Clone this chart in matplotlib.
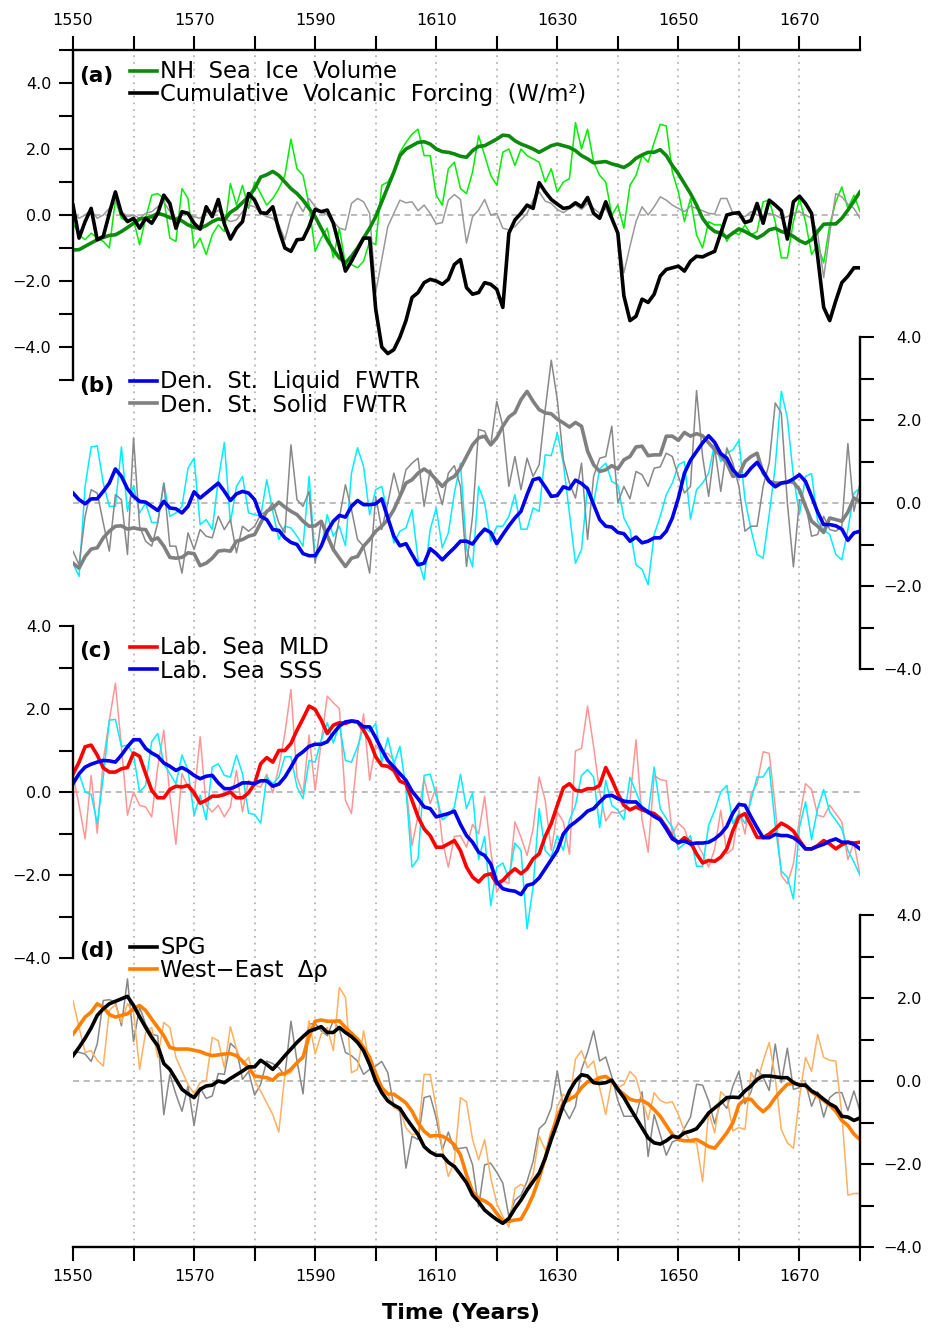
import numpy as np
import matplotlib
matplotlib.use("Agg")
import matplotlib.pyplot as plt
from matplotlib.lines import Line2D
from matplotlib.ticker import MultipleLocator, FixedLocator

W, H = 934, 1328
years = np.arange(1550, 1681)

# (a) NH sea ice volume (raw + smoothed), volcanic forcing
a_ice_raw = [-0.25, -0.6, -0.75, -0.55, -0.7, -0.8, -1.0, 0.45, -0.1, -0.2,
             -0.15, -0.9, -0.1, 0.6, 0.65, 0.5, -0.7, -0.8, 0.8, 0.5,
             -1.0, -0.7, -1.2, -0.6, -0.3, -0.5, 0.95, 0.3, 0.9, 0.2,
             1.0, 0.65, 0.3, 0.5, 0.8, 1.2, 2.3, 1.4, 1.2, 0.3,
             -1.1, -0.7, -0.4, -1.3, -0.4, -1.5, -1.5, -1.6, -1.4, -0.8,
             -0.9, 0.9, 1.0, 1.3, 1.9, 2.2, 2.45, 2.6, 1.8, 1.8,
             0.6, 0.3, 1.4, 1.6, 0.8, 0.65, 1.3, 2.4, 1.8, 1.2,
             0.9, 1.9, 2.0, 1.5, 2.0, 1.8, 1.7, 1.6, 1.0, 1.4,
             0.7, 1.0, 1.1, 2.8, 2.0, 2.6, 1.6, 1.2, 1.0, 0.0,
             0.3, -0.4, 0.9, 1.2, 1.8, 1.6, 2.2, 2.75, 2.7, 1.3,
             0.7, -0.2, 0.5, -0.6, -1.0, -0.2, -0.3, -0.3, -0.8, -0.5,
             -0.6, -0.3, -0.6, -0.5, 0.4, 0.45, -0.2, -1.3, -1.3, -0.2,
             0.5, -0.2, -1.2, -0.9, -1.45, -0.3, 0.4, 0.85, 0.2, 0.6, 0.1]
a_ice = [-1.06, -1.05, -0.95, -0.85, -0.75, -0.68, -0.62, -0.6, -0.5, -0.38,
         -0.25, -0.12, -0.1, -0.05, 0.05, 0.0, -0.08, -0.12, -0.18, -0.3,
         -0.38, -0.4, -0.32, -0.2, -0.12, -0.15, 0.08, 0.2, 0.38, 0.55,
         0.8, 1.15, 1.22, 1.32, 1.2, 1.0, 0.8, 0.65, 0.45, 0.2,
         -0.05, -0.4, -0.75, -1.05, -1.3, -1.45, -1.25, -1.0, -0.7, -0.4,
         -0.05, 0.4, 0.85, 1.3, 1.8, 2.0, 2.1, 2.2, 2.22, 2.15,
         2.0, 1.92, 1.9, 1.85, 1.78, 1.75, 1.95, 2.08, 2.1, 2.2,
         2.3, 2.42, 2.4, 2.25, 2.15, 2.08, 2.0, 1.9, 2.0, 2.1,
         2.15, 2.1, 2.05, 1.95, 1.8, 1.7, 1.58, 1.6, 1.62, 1.55,
         1.5, 1.44, 1.55, 1.72, 1.82, 1.9, 1.9, 1.98, 1.8, 1.5,
         1.25, 0.95, 0.65, 0.3, -0.1, -0.35, -0.5, -0.55, -0.68, -0.55,
         -0.42, -0.5, -0.6, -0.7, -0.6, -0.45, -0.4, -0.5, -0.55, -0.65,
         -0.78, -0.86, -0.75, -0.5, -0.28, -0.27, -0.27, -0.1, 0.15, 0.42, 0.7]
a_volc_raw = [0.1, -0.1, 0.0, 0.15, -0.1, 0.0, 0.2, 0.4, 0.1, -0.05,
              0.0, -0.1, 0.05, 0.1, 0.25, 0.4, 0.1, -0.1, 0.05, 0.0,
              -0.05, -0.1, 0.1, 0.0, 0.15, -0.1, -0.2, -0.15, 0.1, 0.3,
              0.25, 0.05, -0.05, -0.1, -0.3, -0.75, -0.05, 0.4, 0.1, 0.5,
              0.25, 0.1, 0.0, -0.2, -0.4, -0.45, 0.35, 0.5, 0.4, 0.05,
              -2.35, -1.35, -0.35, 0.05, 0.45, 0.37, 0.4, 0.13, 0.3, 0.05,
              -0.27, -0.23, 0.45, 0.62, 0.47, -0.85, -0.05, 0.15, 0.47, 0.0,
              0.05, -0.4, -0.45, -0.35, -0.15, 0.05, 0.45, 0.7, 0.42, 0.35,
              0.17, 0.07, 0.2, 0.3, 0.17, 0.35, 0.2, 0.05, 0.2, -0.15,
              -0.55, -1.75, -0.95, -0.2, 0.25, 0.0, 0.25, 0.55, 0.45, 0.3,
              0.2, 0.1, 0.27, 0.2, 0.13, 0.05, 0.03, 0.5, 0.5, 0.05,
              0.0, -0.05, 0.1, 0.0, -0.05, 0.05, 0.0, -0.1, -0.05, 0.05,
              0.1, 0.0, -0.1, -0.55, -1.9, -0.55, 0.65, 0.55, 0.33, 0.2, -0.1]
a_volc = [0.3, -0.7, -0.2, 0.2, -0.75, -0.65, 0.05, 0.7, 0.05, -0.2,
          -0.1, -0.4, -0.1, -0.25, 0.05, 0.6, 0.35, -0.4, 0.1, 0.05,
          -0.25, -0.43, 0.25, -0.05, 0.47, -0.27, -0.73, -0.4, -0.2, 0.65,
          0.45, 0.07, 0.05, 0.25, -0.45, -1.0, -1.1, -0.75, -0.73, -0.35,
          0.17, 0.1, 0.15, -0.25, -0.95, -1.7, -1.4, -1.05, -0.7, -0.7,
          -2.85, -4.0, -4.2, -4.08, -3.7, -3.2, -2.5, -2.35, -2.05, -1.95,
          -2.0, -2.1, -1.95, -1.5, -1.35, -2.2, -2.4, -2.35, -2.05, -2.1,
          -2.25, -2.8, -0.55, -0.15, 0.05, 0.3, 0.2, 0.98, 0.7, 0.47,
          0.33, 0.2, 0.23, 0.37, 0.25, 0.53, 0.05, -0.1, 0.4, -0.1,
          -0.55, -2.45, -3.2, -3.07, -2.55, -2.65, -2.4, -1.85, -1.65, -1.6,
          -1.55, -1.7, -1.4, -1.25, -1.27, -1.18, -1.1, -0.55, 0.0, 0.05,
          0.07, -0.23, -0.17, 0.35, -0.25, 0.45, 0.3, 0.13, -0.73, 0.4,
          0.57, 0.35, 0.05, -1.25, -2.8, -3.2, -2.6, -2.05, -1.85, -1.6, -1.6]

# (b) Denmark Strait liquid / solid freshwater transport
b_liq_raw = [-1.45, -1.77, 0.4, 1.35, 1.38, 0.48, -0.08, -0.08, 1.35, -0.2,
             0.42, -0.24, 0.0, -0.47, -0.47, 0.48, -0.32, -0.24, -0.08, 0.84,
             1.08, -0.52, -0.4, -0.64, 0.56, 1.46, -0.48, 0.4, 0.64, -0.24,
             -0.28, -0.32, 0.56, -0.2, -0.88, -0.56, -0.6, -0.8, -1.04, 0.64,
             -1.37, -1.08, -0.28, -0.8, -0.56, -1.03, 0.72, 1.33, 0.88, -0.28,
             0.32, 0.4, -0.28, -0.96, -0.68, -0.6, -0.16, -1.37, -1.85, -0.64,
             -0.12, -1.08, -0.72, 0.24, 0.96, -1.1, -1.54, 0.4, 0.0, -0.92,
             -0.56, -0.56, -0.32, 0.2, -0.63, -0.63, -0.12, -0.2, 1.16, 1.14,
             1.69, 0.96, -0.24, -1.45, -1.12, 0.4, 0.0, 0.82, 0.96, 0.52,
             0.44, -0.36, -0.64, -1.49, -1.6, -1.97, -0.76, -0.32, 0.2, 0.48,
             0.92, 1.0, -0.39, 0.32, 0.48, 0.72, 1.45, 1.0, 1.2, 1.28,
             1.51, 0.08, -0.64, -1.24, -1.33, -0.28, 0.88, 2.69, 2.05, 0.64,
             -0.28, 0.64, 0.71, -0.44, -0.64, -0.76, -1.24, -1.37, -0.64, 0.24, 0.36]
b_liq = [0.24, 0.08, -0.02, 0.1, 0.1, 0.28, 0.48, 0.82, 0.64, 0.34,
         0.16, 0.04, 0.02, -0.08, -0.18, 0.04, -0.12, -0.14, -0.24, -0.08,
         0.27, 0.12, 0.24, 0.36, 0.48, 0.28, 0.06, 0.22, 0.28, 0.24,
         0.08, -0.32, -0.4, -0.64, -0.66, -0.84, -0.95, -1.0, -1.22, -1.27,
         -1.27, -1.04, -0.68, -0.44, -0.3, -0.34, -0.08, 0.06, -0.04, -0.04,
         -0.02, 0.1, -0.36, -0.8, -1.03, -0.98, -1.24, -1.49, -1.45, -1.1,
         -1.22, -1.37, -1.22, -1.08, -0.92, -0.92, -0.99, -0.79, -0.63, -0.71,
         -0.98, -0.76, -0.55, -0.36, -0.2, 0.2, 0.56, 0.6, 0.39, 0.16,
         0.18, 0.39, 0.34, 0.55, 0.47, 0.34, -0.04, -0.4, -0.56, -0.58,
         -0.71, -0.74, -0.92, -0.82, -0.96, -0.92, -0.84, -0.84, -0.68, -0.36,
         0.12, 0.72, 1.03, 1.24, 1.45, 1.62, 1.46, 1.19, 1.08, 0.8,
         0.64, 0.66, 0.84, 0.98, 0.76, 0.52, 0.39, 0.48, 0.5, 0.58,
         0.68, 0.52, 0.16, -0.22, -0.52, -0.52, -0.55, -0.63, -0.9, -0.72, -0.68]
b_sol_raw = [-1.16, -1.49, -0.32, 0.32, 0.24, -0.48, -1.16, 0.2, 0.08, -1.24,
             1.57, -0.56, -0.92, -1.04, -0.48, 0.48, -1.04, -1.04, -1.69, -0.72,
             -1.12, -0.64, -0.8, -0.84, -0.32, -0.64, -0.4, -1.2, -0.56, -0.68,
             -0.56, -0.28, -0.2, 0.0, -0.48, -0.72, 1.4, 0.08, -0.08, 0.28,
             -1.45, -0.44, -0.72, -1.16, -0.36, 0.44, -0.16, -0.88, -1.04, -1.69,
             0.16, -0.64, 0.0, 0.72, 0.16, 0.8, 0.96, 1.08, -0.08, 0.8,
             0.48, -0.04, 0.72, 0.9, 0.4, -1.53, -0.32, 1.77, 1.73, 1.4,
             2.45, 1.85, 0.4, 1.12, 0.32, 1.08, 0.64, 0.92, 2.25, 3.44,
             2.49, 1.04, 0.48, 0.12, 0.96, -0.88, 0.64, 1.08, 1.12, 1.85,
             0.0, 0.4, 0.1, 0.76, 0.68, 0.4, 0.84, 0.87, 1.2, 1.12,
             0.64, 0.24, 0.4, 2.71, 1.12, 0.16, 1.33, 0.28, 1.33, 0.96,
             0.4, -0.68, -0.56, -0.56, 0.4, 0.96, 2.41, 2.17, 0.0, -1.54,
             0.08, 0.0, -0.8, -0.76, -0.32, -0.64, -0.68, -0.56, 1.43, -0.2, 0.47]
b_sol = [-1.45, -1.57, -1.29, -1.11, -1.08, -0.84, -0.68, -0.56, -0.55, -0.63,
         -0.6, -0.63, -0.64, -0.9, -0.84, -1.04, -1.31, -1.33, -1.31, -1.2,
         -1.22, -1.51, -1.45, -1.33, -1.16, -1.14, -1.16, -0.92, -0.88, -0.8,
         -0.76, -0.48, -0.2, -0.12, 0.02, -0.1, -0.2, -0.28, -0.44, -0.56,
         -0.55, -0.44, -0.79, -1.12, -1.33, -1.53, -1.33, -1.29, -1.04, -0.88,
         -0.68, -0.56, -0.4, -0.16, 0.16, 0.48, 0.56, 0.72, 0.82, 0.72,
         0.56, 0.4, 0.56, 0.64, 0.84, 1.12, 1.4, 1.57, 1.61, 1.4,
         1.57, 1.85, 2.07, 2.18, 2.49, 2.69, 2.45, 2.25, 2.17, 2.15,
         2.02, 1.93, 1.83, 1.94, 1.85, 1.25, 0.92, 0.76, 0.8, 0.9,
         0.82, 1.04, 1.12, 1.35, 1.37, 1.14, 1.16, 1.16, 1.61, 1.61,
         1.51, 1.7, 1.61, 1.67, 1.62, 1.45, 1.29, 1.14, 0.96, 0.64,
         0.68, 1.0, 1.12, 1.2, 0.72, 0.52, 0.48, 0.48, 0.52, 0.5,
         0.32, -0.08, -0.44, -0.56, -0.71, -0.36, -0.4, -0.44, -0.22, 0.12, 0.04]

# (c) Labrador Sea mixed layer depth / sea surface salinity
c_mld_raw = [0.43, -0.32, -1.13, 0.4, -0.99, 0.76, 1.73, 2.62, 1.09, -0.56,
             0.0, -0.32, -0.36, -0.6, 0.6, 1.49, -0.08, -1.26, 0.44, 0.12,
             -0.12, 1.33, -0.32, -0.48, -0.32, -0.6, -0.36, 0.52, -0.48, 0.28,
             0.16, 0.12, 0.43, -0.02, 0.6, 1.41, 2.47, 0.36, -0.04, 1.37,
             0.04, 1.21, 2.31, 2.15, 2.01, -0.2, -0.52, 0.93, 1.88, 0.28,
             1.13, 0.94, 0.93, 0.76, 0.28, 0.2, -1.29, -0.56, 0.32, -0.28,
             0.12, -1.17, -1.81, -1.07, -1.05, -1.33, -0.78, -1.01, -0.1, -1.41,
             -2.41, -2.13, -2.21, -0.72, -1.09, -1.53, -0.89, 0.36, -0.2, -1.41,
             -0.48, -0.72, -1.5, 0.99, 1.05, 2.07, 1.09, 0.0, -0.7, -0.48,
             -0.51, -0.44, -0.2, 1.26, -0.67, -1.45, 0.4, 0.3, 0.27, -1.01,
             -0.75, -0.89, -1.31, -1.21, -1.49, -1.81, -1.37, -0.44, -1.49, -1.37,
             -0.44, -1.01, -0.04, 0.2, 0.97, 0.93, -0.36, -2.01, -2.21, -1.73,
             -0.64, 0.2, 0.06, -0.56, -0.6, -0.32, -0.52, -0.72, -1.63, -1.21, -2.01]
c_mld = [0.43, 0.72, 1.09, 1.13, 0.89, 0.58, 0.48, 0.48, 0.56, 0.59,
         0.94, 0.86, 0.44, 0.04, -0.14, -0.14, 0.06, 0.14, 0.12, 0.16,
         -0.02, -0.27, -0.2, -0.1, -0.1, -0.06, 0.0, -0.14, -0.14, -0.02,
         0.2, 0.68, 0.83, 0.72, 1.0, 1.0, 1.17, 1.49, 1.77, 2.07,
         1.99, 1.73, 1.41, 1.61, 1.67, 1.65, 1.71, 1.69, 1.49, 1.23,
         0.85, 0.64, 0.62, 0.52, 0.26, 0.2, -0.2, -0.6, -0.89, -1.05,
         -1.33, -1.33, -1.25, -1.17, -1.41, -1.81, -2.05, -2.17, -2.01, -1.97,
         -2.21, -2.13, -1.97, -1.85, -1.97, -1.85, -1.61, -1.49, -1.07, -0.76,
         -0.32, 0.1, 0.2, 0.04, 0.02, 0.08, 0.08, 0.16, 0.59, 0.3,
         -0.04, -0.32, -0.43, -0.36, -0.43, -0.48, -0.52, -0.64, -0.85, -1.09,
         -1.23, -1.1, -1.21, -1.49, -1.71, -1.65, -1.67, -1.57, -1.37, -0.93,
         -0.6, -0.52, -0.8, -1.09, -1.1, -1.01, -0.89, -0.75, -0.83, -0.94,
         -1.17, -1.37, -1.37, -1.29, -1.17, -1.25, -1.37, -1.27, -1.21, -1.23, -1.21]
c_sss_raw = [0.28, 0.44, 0.0, -0.06, -0.76, 0.36, 1.73, 1.75, 1.1, 1.13,
             0.89, 0.0, 0.16, 1.21, 1.41, 0.68, 0.44, 0.2, 0.89, 0.52,
             -0.56, -0.08, -0.67, 0.6, 0.68, 0.4, 0.36, 0.89, 0.44, -0.51,
             -0.54, -0.75, 0.36, 0.2, 0.36, 0.85, 0.85, 0.12, -0.16, 0.76,
             0.72, 1.25, 1.67, 1.18, 1.63, 0.76, 0.72, 1.09, 1.57, 1.45,
             1.65, 0.72, 1.31, 0.68, 1.1, 0.08, -1.81, -1.61, 0.4, 0.43,
             -0.08, -0.67, -0.56, -0.36, 0.43, -0.4, -0.02, -1.63, -1.07, -2.74,
             -1.81, -1.71, -2.09, -1.23, -1.41, -3.3, -2.29, -0.4, -1.41, -1.57,
             -1.05, -1.41, -0.68, -0.32, 0.4, 0.54, 0.36, -0.86, 0.28, -0.32,
             -0.44, -0.67, 0.35, 0.0, -0.36, -0.54, 0.6, -0.4, -0.64, -0.85,
             -1.37, -1.25, -1.05, -1.79, -1.79, -0.8, -0.44, 0.0, 0.16, -0.76,
             -0.51, -0.76, -0.2, 0.36, 0.36, 0.6, -0.8, -1.91, -2.05, -2.58,
             -0.85, -0.24, -1.15, -0.4, 0.06, -0.48, -0.68, -0.89, -1.41, -1.69, -2.01]
c_sss = [0.2, 0.44, 0.6, 0.67, 0.72, 0.76, 0.75, 0.72, 0.89, 1.09,
         1.26, 1.26, 1.05, 0.94, 0.86, 0.7, 0.62, 0.52, 0.59, 0.51,
         0.4, 0.32, 0.38, 0.4, 0.22, 0.08, 0.08, 0.14, 0.22, 0.22,
         0.2, 0.27, 0.27, 0.14, 0.19, 0.36, 0.6, 0.86, 0.97, 1.1,
         1.15, 1.15, 1.21, 1.41, 1.59, 1.69, 1.71, 1.69, 1.57, 1.57,
         1.31, 1.02, 0.76, 0.6, 0.44, 0.28, 0.02, -0.16, -0.36, -0.4,
         -0.6, -0.56, -0.52, -0.46, -0.78, -1.05, -1.21, -1.45, -1.53, -1.73,
         -2.17, -2.33, -2.37, -2.39, -2.47, -2.25, -2.21, -2.07, -1.85, -1.63,
         -1.41, -1.01, -0.83, -0.72, -0.6, -0.46, -0.4, -0.24, -0.1, -0.08,
         -0.16, -0.22, -0.24, -0.24, -0.38, -0.48, -0.59, -0.67, -0.89, -1.13,
         -1.21, -1.18, -1.25, -1.23, -1.23, -1.21, -1.13, -1.01, -0.83, -0.51,
         -0.3, -0.32, -0.6, -0.86, -1.1, -1.1, -1.02, -1.05, -1.05, -1.1,
         -1.21, -1.37, -1.37, -1.31, -1.26, -1.18, -1.13, -1.21, -1.21, -1.26, -1.37]

# (d) subpolar gyre strength / west-east density difference
d_spg_raw = [0.69, 0.69, 0.65, 0.47, 0.89, 1.94, 1.96, 1.9, 1.33, 2.46,
             0.95, 1.78, 1.37, 1.13, 1.09, -0.81, 0.16, -0.32, -0.73, -0.12,
             -1.07, -0.16, -0.42, -0.36, 0.18, 0.16, 0.91, 0.77, 0.04, 0.23,
             -0.34, -0.08, 0.48, 0.42, 0.32, 0.12, 1.44, 0.48, -0.31, 1.37,
             1.39, 1.21, 1.09, 1.45, 1.25, 0.69, 0.61, 0.48, 0.16, 0.28,
             0.36, 0.47, 0.2, -0.61, -0.73, -2.1, -1.33, -1.41, -0.4, -0.36,
             -0.89, -1.66, -1.23, -1.66, -1.62, -1.6, -2.02, -3.03, -2.02, -1.98,
             -2.2, -2.46, -3.27, -2.87, -2.75, -2.42, -1.94, -1.15, -1.01, -0.65,
             0.24, -0.65, -0.91, -0.61, 0.28, 0.69, 1.21, 0.48, 0.58, 0.1,
             -0.47, -0.85, -0.85, -0.85, -0.26, -1.82, -0.81, -1.29, -1.79, -1.47,
             -1.41, -1.13, -0.87, -0.08, -0.1, -0.48, -1.03, -0.47, -0.66, -0.12,
             0.23, -0.55, -0.26, 0.28, 0.1, -0.23, 0.89, -0.04, 0.79, -0.2,
             -0.16, -0.04, -0.61, -0.26, -0.87, -0.4, -0.28, -0.28, -0.71, -0.24, -0.73]
d_spg = [0.61, 0.81, 1.03, 1.28, 1.58, 1.74, 1.86, 1.92, 1.98, 2.04,
         1.82, 1.55, 1.29, 1.05, 0.85, 0.42, 0.28, 0.04, -0.2, -0.31,
         -0.4, -0.2, -0.12, -0.1, 0.0, -0.04, 0.06, 0.15, 0.24, 0.34,
         0.34, 0.5, 0.4, 0.28, 0.44, 0.61, 0.77, 0.93, 1.07, 1.2,
         1.25, 1.31, 1.17, 1.17, 1.29, 1.17, 1.07, 0.93, 0.73, 0.4,
         0.0, -0.28, -0.48, -0.58, -0.66, -0.89, -1.09, -1.29, -1.58, -1.71,
         -1.79, -1.79, -1.96, -2.06, -2.25, -2.45, -2.75, -2.91, -3.11, -3.23,
         -3.34, -3.43, -3.31, -3.07, -2.87, -2.63, -2.42, -2.22, -1.86, -1.41,
         -1.01, -0.58, -0.24, 0.0, 0.15, 0.12, -0.04, -0.06, -0.04, 0.02,
         -0.2, -0.4, -0.65, -0.89, -1.13, -1.37, -1.49, -1.52, -1.44, -1.33,
         -1.36, -1.25, -1.21, -1.15, -0.97, -0.77, -0.65, -0.53, -0.4, -0.39,
         -0.4, -0.24, -0.12, 0.04, 0.12, 0.12, 0.1, 0.08, 0.08, -0.04,
         -0.1, -0.1, -0.24, -0.32, -0.44, -0.55, -0.63, -0.85, -0.87, -0.95, -0.89]
d_rho_raw = [1.94, 1.29, 0.69, 0.73, 0.5, 0.36, 1.7, 1.84, 1.41, 1.86,
             1.66, 0.28, 1.17, 1.29, 0.57, 1.41, 1.29, 0.57, 0.24, -0.08,
             -0.31, -0.04, 0.0, 1.05, 0.97, 0.32, 1.31, 0.77, 0.4, 0.57,
             0.0, -0.24, -0.53, -0.81, -1.23, 0.16, 0.2, 0.48, 0.53, 1.45,
             0.65, 1.13, 1.29, 0.73, 2.25, 2.02, 0.2, 0.28, 1.21, 0.4,
             0.24, -0.16, -0.32, -0.65, -0.69, -1.13, -1.29, -1.28, 0.16, 0.16,
             -0.65, -1.62, -2.3, -1.94, -0.4, -0.5, -1.41, -1.9, -1.41, -2.33,
             -2.95, -3.27, -3.52, -2.59, -2.49, -2.59, -2.26, -1.33, -1.66, -1.45,
             -0.61, -0.32, -0.48, 0.53, 0.73, 0.32, 0.48, -0.16, -0.81, 0.0,
             -0.16, -0.08, 0.23, 0.08, -0.44, -0.93, -0.28, -0.47, -0.53, -0.5,
             -0.81, -1.21, -1.47, -1.49, -2.42, -0.74, -1.25, -0.26, -0.4, -1.2,
             -1.12, -1.17, 0.2, -0.04, 0.48, 0.93, 0.08, -1.17, -1.49, -1.62,
             -0.4, 0.57, 0.23, 1.12, 0.57, 0.5, 0.48, -0.81, -2.75, -2.71, -2.71]
d_rho = [1.13, 1.33, 1.54, 1.66, 1.86, 1.78, 1.6, 1.54, 1.58, 1.62,
         1.74, 1.82, 1.7, 1.49, 1.29, 1.09, 0.81, 0.77, 0.77, 0.77,
         0.74, 0.71, 0.65, 0.61, 0.63, 0.65, 0.66, 0.61, 0.48, 0.32,
         0.12, 0.1, 0.08, 0.02, 0.16, 0.18, 0.28, 0.44, 0.58, 1.07,
         1.44, 1.47, 1.44, 1.44, 1.45, 1.29, 1.15, 1.01, 0.81, 0.57,
         0.18, -0.16, -0.31, -0.32, -0.42, -0.53, -0.73, -1.01, -1.21, -1.33,
         -1.31, -1.33, -1.41, -1.54, -1.78, -2.26, -2.67, -2.83, -2.89, -2.99,
         -3.19, -3.38, -3.38, -3.35, -3.33, -3.07, -2.75, -2.34, -1.86, -1.29,
         -0.87, -0.53, -0.44, -0.36, -0.16, -0.02, 0.0, 0.08, 0.11, 0.0,
         -0.2, -0.32, -0.44, -0.48, -0.47, -0.55, -0.69, -0.85, -1.07, -1.29,
         -1.41, -1.44, -1.44, -1.41, -1.49, -1.58, -1.62, -1.44, -1.25, -1.01,
         -0.57, -0.44, -0.44, -0.61, -0.74, -0.61, -0.4, -0.23, -0.08, -0.06,
         -0.08, -0.12, -0.26, -0.36, -0.47, -0.58, -0.73, -0.95, -1.07, -1.28, -1.41]

GRID = '#aaaaaa'
THIN, THICK = 1.1, 2.6
TICKFS = 11.5


def rect(top, bot):
    # pixel rows of the panel -> figure fraction
    return [73 / W, 1 - bot / H, 787 / W, (bot - top) / H]


fig = plt.figure(figsize=(W / 100, H / 100), dpi=100)

bg = fig.add_axes(rect(50, 1247))
bg.set_xlim(1550, 1680)
bg.set_ylim(0, 1)
bg.axis('off')
for yr in range(1560, 1680, 10):
    bg.axvline(yr, color=GRID, lw=1.1, ls=(0, (1.2, 3.2)))


def panel(top, bot, lim, side, xside=None):
    ax = fig.add_axes(rect(top, bot))
    ax.set_facecolor('none')
    ax.set_xlim(1550, 1680)
    ax.set_ylim(-lim, lim)
    for s in ax.spines.values():
        s.set_visible(False)
    ax.spines[side].set_visible(True)
    ax.spines[side].set_linewidth(1.7)
    ax.axhline(0, color=GRID, lw=1.1, ls=(0, (4, 3)), zorder=0)
    ax.yaxis.set_major_locator(MultipleLocator(2))
    ax.yaxis.set_minor_locator(MultipleLocator(1))
    ax.yaxis.set_major_formatter('{x:.1f}')
    if side == 'left':
        ax.tick_params(axis='y', which='both', direction='out', length=10,
                       width=1.5, labelsize=TICKFS, pad=5.5)
    else:
        ax.yaxis.tick_right()
        ax.tick_params(axis='y', which='both', direction='out', length=10,
                       width=1.5, labelsize=TICKFS, pad=34.5)
        for t in ax.yaxis.get_major_ticks():
            t.label2.set_horizontalalignment('right')
    if xside is None:
        ax.tick_params(axis='x', which='both', bottom=False, top=False,
                       labelbottom=False, labeltop=False)
    else:
        ax.spines[xside].set_visible(True)
        ax.spines[xside].set_linewidth(1.7)
        ax.xaxis.set_major_locator(FixedLocator(range(1550, 1681, 20)))
        ax.xaxis.set_minor_locator(FixedLocator(range(1560, 1681, 20)))
        if xside == 'top':
            ax.xaxis.tick_top()
        ax.tick_params(axis='x', which='both', direction='out', length=10,
                       width=1.5, labelsize=TICKFS, pad=5.5)
    return ax


ax_a = panel(50, 380, 5, 'left', 'top')
ax_a.plot(years, a_ice_raw, color='#00ee00', lw=THIN)
ax_a.plot(years, a_volc_raw, color='#999999', lw=THIN)
ax_a.plot(years, a_ice, color='#0c8a0c', lw=THICK)
ax_a.plot(years, a_volc, color='black', lw=THICK)

ax_b = panel(337, 669, 4, 'right')
ax_b.plot(years, b_liq_raw, color='#00eeff', lw=THIN)
ax_b.plot(years, b_sol_raw, color='#888888', lw=THIN)
ax_b.plot(years, b_sol, color='#808080', lw=THICK)
ax_b.plot(years, b_liq, color='#0000ee', lw=THICK)

ax_c = panel(626, 958, 4, 'left')
ax_c.plot(years, c_mld_raw, color='#ff9696', lw=THIN)
ax_c.plot(years, c_sss_raw, color='#00eeff', lw=THIN)
ax_c.plot(years, c_mld, color='#ff0000', lw=THICK)
ax_c.plot(years, c_sss, color='#0000ee', lw=THICK)

ax_d = panel(915, 1247, 4, 'right', 'bottom')
ax_d.plot(years, d_spg_raw, color='#888888', lw=THIN)
ax_d.plot(years, d_rho_raw, color='#ffb060', lw=THIN)
ax_d.plot(years, d_rho, color='#ff8000', lw=THICK)
ax_d.plot(years, d_spg, color='black', lw=THICK)

# two-row legends, one text block per panel (pixel rows of the line keys)
legend_blocks = [
    (70.7, 93.0, 'NH  Sea  Ice  Volume',
     'Cumulative  Volcanic  Forcing  (W/m²)', '#0c8a0c', 'black'),
    (380.7, 403.3, 'Den.  St.  Liquid  FWTR',
     'Den.  St.  Solid  FWTR', '#0000ee', '#808080'),
    (646.7, 669.3, 'Lab.  Sea  MLD', 'Lab.  Sea  SSS', '#ff0000', '#0000ee'),
    (946.7, 969.0, 'SPG', 'West−East  Δρ', 'black', '#ff8000'),
]
for y1, y2, lab1, lab2, c1, c2 in legend_blocks:
    for y, col in [(y1, c1), (y2, c2)]:
        fy = 1 - y / H
        fig.add_artist(Line2D([130 / W, 157 / W], [fy, fy], color=col,
                              lw=THICK, transform=fig.transFigure))
    # 'baseline' of a two-line text is the baseline of its last line
    fig.text(160 / W, 1 - (y2 + 8.5) / H, lab1 + '\n' + lab2, fontsize=16.3,
             ha='left', va='baseline', linespacing=1.05)

for y, lab in [(76, '(a)'), (386, '(b)'), (651, '(c)'), (951, '(d)')]:
    fig.text(79 / W, 1 - y / H, lab, fontsize=15.5, fontweight='bold',
             ha='left', va='center')

fig.text(461 / W, 1 - 1313 / H, 'Time (Years)', fontsize=16,
         fontweight='bold', ha='center', va='center')

fig.savefig('out.png', dpi=100)
